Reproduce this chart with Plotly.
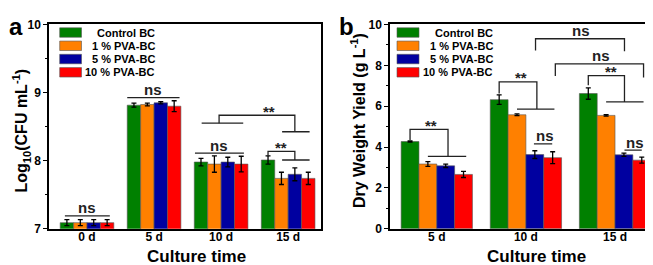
import plotly.graph_objects as go

# ---------------- data ----------------
series_names = ["Control BC", "1 % PVA-BC", "5 % PVA-BC", "10 % PVA-BC"]
series_colors = ["#008000", "#FF8000", "#0000A0", "#FF0000"]

cfu_days = ["0 d", "5 d", "10 d", "15 d"]
cfu_control = [7.09, 8.815, 7.98, 8.01]
cfu_pva1 = [7.09, 8.825, 7.95, 7.74]
cfu_pva5 = [7.09, 8.85, 7.98, 7.80]
cfu_pva10 = [7.09, 8.80, 7.95, 7.74]
cfu_err_control = [0.045, 0.03, 0.055, 0.06]
cfu_err_pva1 = [0.045, 0.02, 0.12, 0.09]
cfu_err_pva5 = [0.045, 0.015, 0.07, 0.095]
cfu_err_pva10 = [0.045, 0.08, 0.115, 0.09]

dw_days = ["5 d", "10 d", "15 d"]
dw_control = [4.27, 6.32, 6.62]
dw_pva1 = [3.17, 5.58, 5.55]
dw_pva5 = [3.08, 3.63, 3.62]
dw_pva10 = [2.66, 3.48, 3.36]
dw_err_control = [0.03, 0.23, 0.28]
dw_err_pva1 = [0.12, 0.04, 0.04]
dw_err_pva5 = [0.08, 0.19, 0.08]
dw_err_pva10 = [0.15, 0.29, 0.15]

# significance brackets: (polyline points in data units, label, label x, label y)
cfu_brackets = [
    ([(-0.33, 7.19), (0.34, 7.19)], "ns", 0.0, 7.19),
    ([(0.60, 8.925), (1.38, 8.925)], "ns", 0.99, 8.925),
    ([(1.61, 8.11), (2.34, 8.11)], "ns", 1.975, 8.11),
    ([(2.70, 8.07), (2.70, 8.137), (3.10, 8.137), (3.10, 8.01)], "**", 2.90, 8.137),
    ([(2.91, 8.01), (3.32, 8.01)], "", 0, 0),
    ([(1.71, 8.55), (2.33, 8.55)], "", 0, 0),
    ([(1.97, 8.55), (1.97, 8.667), (3.10, 8.667), (3.10, 8.425)], "**", 2.72, 8.667),
    ([(2.91, 8.425), (3.32, 8.425)], "", 0, 0),
]
dw_brackets = [
    ([(-0.3, 4.35), (-0.3, 4.87), (0.126, 4.87), (0.126, 3.54)], "**", -0.06, 4.87),
    ([(-0.1, 3.54), (0.33, 3.54)], "", 0, 0),
    ([(0.7, 6.62), (0.7, 7.19), (1.123, 7.19), (1.123, 5.86)], "**", 0.94, 7.19),
    ([(0.9, 5.86), (1.32, 5.86)], "", 0, 0),
    ([(1.7, 7.02), (1.7, 7.50), (2.106, 7.50), (2.106, 6.21)], "**", 1.96, 7.50),
    ([(1.9, 6.21), (2.32, 6.21)], "", 0, 0),
    ([(1.108, 8.73), (1.108, 9.30), (2.106, 9.30), (2.106, 8.69)], "ns", 1.62, 9.30),
    ([(1.33, 7.48), (1.33, 8.07), (2.32, 8.07), (2.32, 7.40)], "ns", 1.84, 8.07),
    ([(1.09, 4.16), (1.295, 4.16)], "ns", 1.21, 4.16),
    ([(2.106, 3.85), (2.30, 3.85)], "ns", 2.22, 3.85),
]

# ---------------- figure ----------------
W, H = 653, 265
FONT = "Arial, Liberation Sans, Helvetica, sans-serif"
fig = go.Figure()

cfu_vals = [cfu_control, cfu_pva1, cfu_pva5, cfu_pva10]
cfu_errs = [cfu_err_control, cfu_err_pva1, cfu_err_pva5, cfu_err_pva10]
dw_vals = [dw_control, dw_pva1, dw_pva5, dw_pva10]
dw_errs = [dw_err_control, dw_err_pva1, dw_err_pva5, dw_err_pva10]

for name, col, v, e in zip(series_names, series_colors, cfu_vals, cfu_errs):
    fig.add_trace(go.Bar(
        x=list(range(len(cfu_days))), y=v, name=name, marker_color=col,
        marker_line=dict(color="#555555", width=0.6), showlegend=False,
        error_y=dict(type="data", array=e, color="black", thickness=1.3, width=2.5),
        xaxis="x", yaxis="y"))
for name, col, v, e in zip(series_names, series_colors, dw_vals, dw_errs):
    fig.add_trace(go.Bar(
        x=list(range(len(dw_days))), y=v, name=name, marker_color=col,
        marker_line=dict(color="#555555", width=0.6), showlegend=False,
        error_y=dict(type="data", array=e, color="black", thickness=1.3, width=2.5),
        xaxis="x2", yaxis="y2"))

ydom = [1 - 225.7 / H, 1 - 10 / H]
tickfont = dict(family=FONT, size=12, color="black", weight="bold")
common_x = dict(showline=True, linecolor="black", linewidth=1.5, mirror=True,
                ticks="", ticklen=0, ticklabelstandoff=-4,
                showgrid=False, zeroline=False, tickfont=tickfont)
common_y = dict(showline=True, linecolor="black", linewidth=1.5, mirror=True,
                ticks="outside", ticklen=4, tickwidth=1.2, tickcolor="black",
                showgrid=False, zeroline=False, tickfont=tickfont)

fig.update_layout(
    width=W, height=H, margin=dict(l=0, r=0, t=0, b=0),
    paper_bgcolor="white", plot_bgcolor="white",
    barmode="group", bargap=0.2, bargroupgap=0,
    showlegend=False,
    xaxis=dict(domain=[41 / W, 313 / W], range=[-0.567, 3.49],
               tickvals=list(range(len(cfu_days))), ticktext=cfu_days, anchor="y", **common_x),
    yaxis=dict(domain=ydom, range=[7, 10], dtick=1, anchor="x",
               minor=dict(dtick=0.5, ticks="outside", ticklen=2, tickwidth=1, tickcolor="black"),
               **common_y),
    xaxis2=dict(domain=[382 / W, 650.7 / W], range=[-0.525, 2.49],
                tickvals=list(range(len(dw_days))), ticktext=dw_days, anchor="y2", **common_x),
    yaxis2=dict(domain=ydom, range=[0, 10], dtick=2, anchor="x2",
                minor=dict(dtick=1, ticks="outside", ticklen=2, tickwidth=1, tickcolor="black"),
                **common_y),
)

shapes = []
annots = []


def add_brackets(brackets, xr, yr):
    for pts, label, lx, ly in brackets:
        path = "M " + " L ".join(f"{px},{py}" for px, py in pts)
        shapes.append(dict(type="path", path=path, xref=xr, yref=yr,
                           line=dict(color="#222222", width=1.3)))
        if label:
            annots.append(dict(x=lx, y=ly, xref=xr, yref=yr, text=label, showarrow=False,
                               yanchor="middle", yshift=8 if label == "ns" else 4,
                               font=dict(family=FONT, size=15, color="#222222", weight="bold")))


add_brackets(cfu_brackets, "x", "y")
add_brackets(dw_brackets, "x2", "y2")

# legends (drawn in paper space)
legend_rows_y = [18.5, 32.5, 46.5, 60.5]
for (sw_x0, sw_x1, txt_r) in [(51.7, 73.5, 149), (389, 411, 486.7)]:
    for name, col, ry in zip(series_names, series_colors, legend_rows_y):
        shapes.append(dict(type="rect", xref="paper", yref="paper",
                           x0=sw_x0 / W, x1=sw_x1 / W, y0=1 - (ry + 5) / H, y1=1 - (ry - 5) / H,
                           fillcolor=col, line=dict(color="#555555", width=0.6)))
        annots.append(dict(x=txt_r / W, y=1 - ry / H, xref="paper", yref="paper", text=name,
                           showarrow=False, xanchor="right", yanchor="middle",
                           font=dict(family=FONT, size=11, color="black", weight="bold")))

# axis titles and panel letters
title_font = dict(family=FONT, size=17, color="black", weight="bold")
ytitle_font = dict(family=FONT, size=16, color="black", weight="bold")
annots += [
    dict(x=188 / W, y=1 - 255 / H, xref="paper", yref="paper", text="Culture time",
         showarrow=False, xanchor="center", yanchor="middle", font=title_font),
    dict(x=528 / W, y=1 - 255 / H, xref="paper", yref="paper", text="Culture time",
         showarrow=False, xanchor="center", yanchor="middle", font=title_font),
    dict(x=13 / W, y=1 - 122 / H, xref="paper", yref="paper",
         text="Log<sub>10</sub>(CFU mL<sup>-1</sup>)", textangle=-90,
         showarrow=False, xanchor="center", yanchor="middle", font=ytitle_font),
    dict(x=350 / W, y=1 - 112 / H, xref="paper", yref="paper",
         text="Dry Weight Yield (g L<sup>-1</sup>)", textangle=-90,
         showarrow=False, xanchor="center", yanchor="middle", font=ytitle_font),
    dict(x=8 / W, y=1 - 12 / H, xref="paper", yref="paper", text="a", showarrow=False,
         xanchor="center", yanchor="middle",
         font=dict(family=FONT, size=24, color="black", weight="bold")),
    dict(x=338 / W, y=1 - 12 / H, xref="paper", yref="paper", text="b", showarrow=False,
         xanchor="center", yanchor="middle",
         font=dict(family=FONT, size=24, color="black", weight="bold")),
]

fig.update_layout(shapes=shapes, annotations=annots)
fig.write_html("out.html")
